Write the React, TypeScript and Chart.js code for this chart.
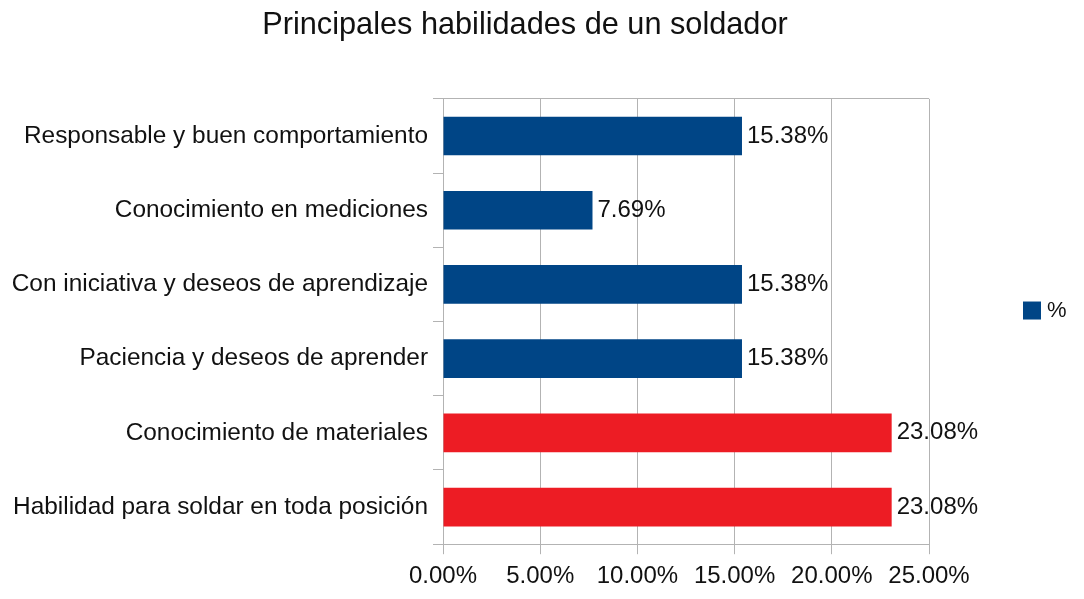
import React, { useEffect, useRef } from "react";
import { Chart, registerables } from "chart.js";

Chart.register(...registerables);

const TITLE = "Principales habilidades de un soldador";
const CATEGORIES = [
  "Responsable y buen comportamiento",
  "Conocimiento en mediciones",
  "Con iniciativa y deseos de aprendizaje",
  "Paciencia y deseos de aprender",
  "Conocimiento de materiales",
  "Habilidad para soldar en toda posición",
];
const VALUES = [15.38, 7.69, 15.38, 15.38, 23.08, 23.08];
const SERIES_LABEL = "%";
const X_MIN = 0;
const X_MAX = 25;
const X_STEP = 5;

const BLUE = "#004586";
const RED = "#ed1c24";
const BAR_COLORS = [BLUE, BLUE, BLUE, BLUE, RED, RED];
const GRID = "#b3b3b3";
const TEXT = "#111111";
const FONT = "'Liberation Sans', Arial, sans-serif";

const fmt = (v: number) => v.toFixed(2) + "%";

const valueLabels = {
  id: "valueLabels",
  afterDatasetsDraw(chart: any) {
    const ctx = chart.ctx;
    const meta = chart.getDatasetMeta(0);
    ctx.save();
    ctx.font = `24px ${FONT}`;
    ctx.fillStyle = TEXT;
    ctx.textAlign = "left";
    ctx.textBaseline = "middle";
    meta.data.forEach((el: any, i: number) => {
      const { x, y } = el.getProps(["x", "y"], true);
      ctx.fillText(fmt(VALUES[i]), x + 5, y);
    });
    ctx.restore();
  },
};

// Simple right-hand legend: colour square + series label
const sideLegend = {
  id: "sideLegend",
  afterDraw(chart: any) {
    const ctx = chart.ctx;
    const area = chart.chartArea;
    const ds = chart.data.datasets[0];
    const x = area.right + 94;
    const cy = (area.top + area.bottom) / 2 - 11;
    const size = 18;
    ctx.save();
    ctx.fillStyle = BAR_COLORS[0];
    ctx.fillRect(x, cy - size / 2, size, size);
    ctx.font = `22px ${FONT}`;
    ctx.fillStyle = TEXT;
    ctx.textAlign = "left";
    ctx.textBaseline = "middle";
    ctx.fillText(ds.label, x + size + 6, cy);
    ctx.restore();
  },
};

export default function App() {
  const ref = useRef<HTMLCanvasElement>(null);

  useEffect(() => {
    document.body.style.margin = "0";
    document.body.style.overflow = "hidden";
    Chart.defaults.font.family = FONT;
    Chart.defaults.color = TEXT;
    const chart = new Chart(ref.current!, {
      type: "bar",
      data: {
        labels: CATEGORIES,
        datasets: [
          {
            label: SERIES_LABEL,
            data: VALUES,
            backgroundColor: (c: any) => BAR_COLORS[c.dataIndex] ?? BLUE,
            borderWidth: 0,
            barPercentage: 0.52,
            categoryPercentage: 1,
          },
        ],
      },
      options: {
        indexAxis: "y",
        responsive: false,
        maintainAspectRatio: false,
        animation: false,
        layout: { padding: { left: 0, right: 34, top: 0, bottom: 0 } },
        plugins: {
          title: {
            display: true,
            text: TITLE,
            color: TEXT,
            font: { size: 30.7, weight: "normal", family: FONT },
            padding: { top: 7, bottom: 55 },
          },
          legend: { display: false },
          tooltip: { enabled: false },
        },
        scales: {
          x: {
            type: "linear",
            min: X_MIN,
            max: X_MAX,
            afterFit: (scale: any) => {
              // reserve room on the right for the legend
              scale.paddingRight = 155;
            },
            ticks: {
              stepSize: X_STEP,
              callback: (v: any) => fmt(Number(v)),
              font: { size: 24, family: FONT },
              color: TEXT,
              padding: 8,
            },
            grid: {
              color: GRID,
              lineWidth: 1,
              tickLength: 10,
              drawTicks: true,
            },
            border: { display: true, color: GRID },
          },
          y: {
            type: "category",
            afterFit: (scale: any) => {
              scale.width = 443;
            },
            ticks: {
              font: { size: 24.4, family: FONT },
              color: TEXT,
              padding: 5,
            },
            grid: {
              offset: true,
              drawOnChartArea: true,
              tickLength: 10,
              color: (c: any) =>
                c.index === 0 || c.index === undefined ? GRID : "rgba(0,0,0,0)",
              tickColor: GRID,
            },
            border: { display: true, color: GRID },
          },
        },
      },
      plugins: [valueLabels, sideLegend],
    } as any);
    return () => chart.destroy();
  }, []);

  return (
    <div style={{ width: 1084, height: 599 }}>
      <canvas ref={ref} width={1084} height={599} style={{ display: "block" }} />
    </div>
  );
}
